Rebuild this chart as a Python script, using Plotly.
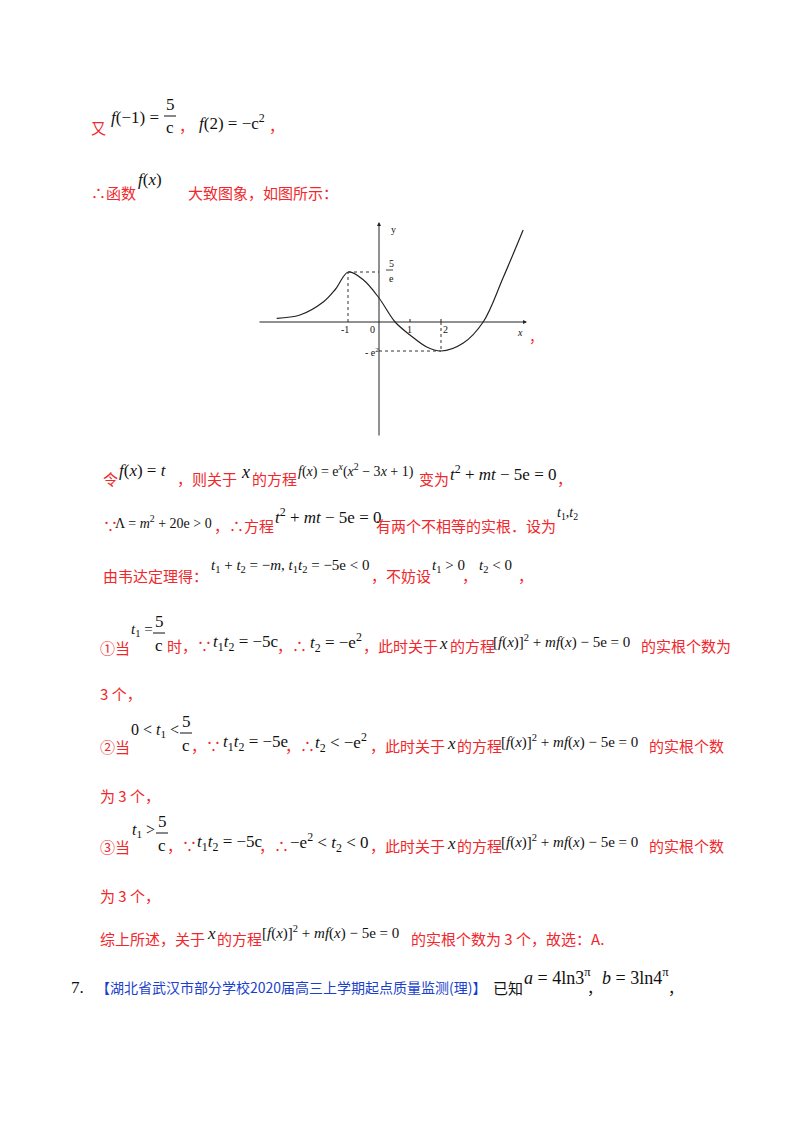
import plotly.graph_objects as go

# schematic curve of f(x) = e^x (x^2 - 3x + 1); y is in sketch units (not to scale)
curve_x = [-3.3, -2.55, -1.8, -1.4, -0.99, -0.5, 0.0, 0.52, 1.0, 1.54, 2.0, 2.72, 3.36, 4.0, 4.65]
curve_y = [3.7, 7, 20, 33, 50, 42, 24, 0, -13, -25, -29, -21, 0, 44, 92]
peak = (-1, 50)
trough = (2, -29)
tick_x = [-1, 0, 1, 2]
tick_labels = ["-1", "0", "1", "2"]

W, H = 800, 1132
OFF = 8  # page body margin in the browser
X0, Y0, UX = 379 - OFF, 322 - OFF, 31  # origin in figure pixels, px per x unit

RED = "#f0282d"
BLUE = "#1b3fcc"
BLACK = "#111111"
CJK = "Noto Sans CJK SC"
SERIF = "Liberation Serif"

fig = go.Figure()
fig.add_trace(go.Scatter(x=curve_x, y=curve_y, mode="lines",
                         line=dict(color="#222", width=1.2, shape="spline", smoothing=1.0),
                         hoverinfo="skip", showlegend=False))

dot = dict(color="#333", width=1, dash="dot")
fig.add_shape(type="line", x0=peak[0], y0=0, x1=peak[0], y1=peak[1], line=dot)
fig.add_shape(type="line", x0=peak[0], y0=peak[1], x1=0, y1=peak[1], line=dot)
fig.add_shape(type="line", x0=trough[0], y0=0, x1=trough[0], y1=trough[1], line=dot)
fig.add_shape(type="line", x0=0, y0=trough[1], x1=trough[0], y1=trough[1], line=dot)

# axes with arrows
xa0, xa1 = (258 - OFF - X0) / UX, (527 - OFF - X0) / UX
fig.add_annotation(x=xa1, y=0, ax=xa0, ay=0, xref="x", yref="y", axref="x", ayref="y",
                   showarrow=True, arrowhead=2, arrowsize=0.8, arrowwidth=1, arrowcolor="#222", text="")
fig.add_annotation(x=0, y=100, ax=0, ay=-115, xref="x", yref="y", axref="x", ayref="y",
                   showarrow=True, arrowhead=2, arrowsize=0.8, arrowwidth=1, arrowcolor="#222", text="")
for tx in tick_x[2:]:
    fig.add_shape(type="line", x0=tx, y0=0, x1=tx, y1=3, line=dict(color="#222", width=1))

fig.update_xaxes(range=[-X0 / UX, (W - X0) / UX], visible=False, domain=[0, 1])
fig.update_yaxes(range=[Y0 - H, Y0], visible=False, domain=[0, 1])


def txt(px, py, s, color=BLACK, size=15, font=CJK, anchor="left"):
    fig.add_annotation(x=(px - OFF) / W, y=1 - (py - OFF) / H, xref="paper", yref="paper", text=s,
                       showarrow=False, xanchor=anchor, yanchor="middle", borderpad=0,
                       font=dict(color=color, size=size, family=font))


def m(px, py, s, size=16):
    txt(px, py, s, BLACK, size, SERIF)


def hline(xa, xb, py, w=1):
    fig.add_shape(type="line", xref="paper", yref="paper",
                  x0=(xa - OFF) / W, x1=(xb - OFF) / W,
                  y0=1 - (py - OFF) / H, y1=1 - (py - OFF) / H,
                  line=dict(color=BLACK, width=w))


def frac(px, py, num, den, size=16):
    txt(px, py - 12, num, BLACK, size, SERIF, "center")
    txt(px, py + 12, den, BLACK, size, SERIF, "center")
    hline(px - 6, px + 6, py)


FX = "<i>f</i>(<i>x</i>)"
EQ = "[<i>f</i>(<i>x</i>)]<sup>2</sup> + <i>mf</i>(<i>x</i>) − 5e = 0"

# chart labels
txt(390, 229, "y", BLACK, 10, SERIF)
txt(388, 263, "5", BLACK, 10, SERIF)
txt(388, 278, "e", BLACK, 10, SERIF)
hline(386, 393, 270, 0.8)
for tx, lab in zip(tick_x, tick_labels):
    off = {-1: -3, 0: -7, 1: 0, 2: 4}[tx]
    txt(379 + tx * UX + off, 329, lab, BLACK, 10, SERIF, "center")
txt(516, 332, "<i>x</i>", BLACK, 10, SERIF)
txt(364, 352, "- e<sup>2</sup>", BLACK, 10, SERIF)
txt(528, 336, "，", RED, 14)

# line 1
txt(90, 128, "又", RED)
m(110, 117, "<i>f</i>(−1) =", 17)
frac(170, 116, "5", "c", 17)
txt(178, 126, "，", RED)
m(198, 122, "<i>f</i>(2) = −c<sup>2</sup>", 17)
txt(268, 126, "，", RED)
# line 2
txt(90, 192, "∴函数", RED)
m(137, 180, FX, 17)
txt(187, 192, "大致图象，如图所示：", RED)
# line 3
txt(102, 478, "令", RED)
m(118, 470, FX + " = <i>t</i>", 17)
txt(176, 478, "，则关于", RED)
m(240, 472, "<i>x</i>", 18)
txt(251, 478, "的方程", RED)
m(297, 470, FX + " = e<sup><i>x</i></sup>(<i>x</i><sup>2</sup> − 3<i>x</i> + 1)", 14)
txt(418, 478, "变为", RED)
m(449, 473, "<i>t</i><sup>2</sup> + <i>mt</i> − 5e = 0", 17)
txt(556, 478, "，", RED)
# line 4
txt(102, 525, "∵", RED)
m(114, 522, "Λ = <i>m</i><sup>2</sup> + 20e > 0", 14)
txt(213, 525, "，∴方程", RED)
m(274, 516, "<i>t</i><sup>2</sup> + <i>mt</i> − 5e = 0", 17)
txt(375, 525, "有两个不相等的实根．设为", RED)
m(556, 513, "<i>t</i><sub>1</sub>,<i>t</i><sub>2</sub>", 14)
# line 5
txt(102, 575, "由韦达定理得：", RED)
m(210, 566, "<i>t</i><sub>1</sub> + <i>t</i><sub>2</sub> = −<i>m</i>, <i>t</i><sub>1</sub><i>t</i><sub>2</sub> = −5e < 0", 15)
txt(370, 575, "，不妨设", RED)
m(431, 566, "<i>t</i><sub>1</sub> > 0", 15)
txt(461, 575, "，", RED)
m(478, 566, "<i>t</i><sub>2</sub> < 0", 15)
txt(517, 575, "，", RED)
# line 6
txt(99, 647, "①当", RED)
m(130, 630, "<i>t</i><sub>1</sub> =", 15)
frac(159, 633, "5", "c", 17)
txt(166, 645, "时，∵", RED)
m(212, 643, "<i>t</i><sub>1</sub><i>t</i><sub>2</sub> = −5c", 17)
txt(276, 645, "，∴", RED)
m(309, 642, "<i>t</i><sub>2</sub> = −e<sup>2</sup>", 17)
txt(362, 645, "，此时关于", RED)
m(438, 643, "<i>x</i>", 17)
txt(449, 645, "的方程", RED)
m(492, 641, EQ, 15)
txt(640, 645, "的实根个数为", RED)
txt(99, 693, "3 个，", RED)
# line 7
txt(99, 746, "②当", RED)
m(130, 730, "0 < <i>t</i><sub>1</sub> <", 16)
frac(186, 733, "5", "c", 17)
txt(190, 745, "，∵", RED)
m(222, 743, "<i>t</i><sub>1</sub><i>t</i><sub>2</sub> = −5e", 17)
txt(284, 745, "，∴", RED)
m(314, 742, "<i>t</i><sub>2</sub> < −e<sup>2</sup>", 17)
txt(369, 745, "，此时关于", RED)
m(446, 743, "<i>x</i>", 17)
txt(456, 745, "的方程", RED)
m(500, 741, EQ, 15)
txt(648, 745, "的实根个数", RED)
txt(99, 795, "为 3 个，", RED)
# line 8
txt(99, 846, "③当", RED)
m(131, 830, "<i>t</i><sub>1</sub> >", 16)
frac(162, 833, "5", "c", 17)
txt(166, 845, "，∵", RED)
m(196, 843, "<i>t</i><sub>1</sub><i>t</i><sub>2</sub> = −5c", 17)
txt(258, 845, "，∴", RED)
m(289, 842, "−e<sup>2</sup> < <i>t</i><sub>2</sub> < 0", 17)
txt(369, 845, "，此时关于", RED)
m(446, 843, "<i>x</i>", 17)
txt(456, 845, "的方程", RED)
m(500, 841, EQ, 15)
txt(648, 845, "的实根个数", RED)
txt(99, 895, "为 3 个，", RED)
# line 9
txt(99, 938, "综上所述，关于", RED)
m(206, 933, "<i>x</i>", 17)
txt(216, 938, "的方程", RED)
m(261, 932, EQ, 15)
txt(410, 938, "的实根个数为 3 个，故选：A.", RED)
# line 10
m(70, 987, "7.", 17)
txt(95, 987, "【湖北省武汉市部分学校2020届高三上学期起点质量监测(理)】", BLUE, 14)
txt(492, 987, "已知", BLACK)
m(523, 976, "<i>a</i> = 4ln3<sup>π</sup>", 18)
txt(586, 987, "，", BLACK)
m(601, 976, "<i>b</i> = 3ln4<sup>π</sup>", 18)
txt(667, 987, "，", BLACK)

fig.update_layout(width=W, height=H, margin=dict(l=0, r=0, t=0, b=0),
                  paper_bgcolor="white", plot_bgcolor="white", showlegend=False)
fig.write_html("out.html")
